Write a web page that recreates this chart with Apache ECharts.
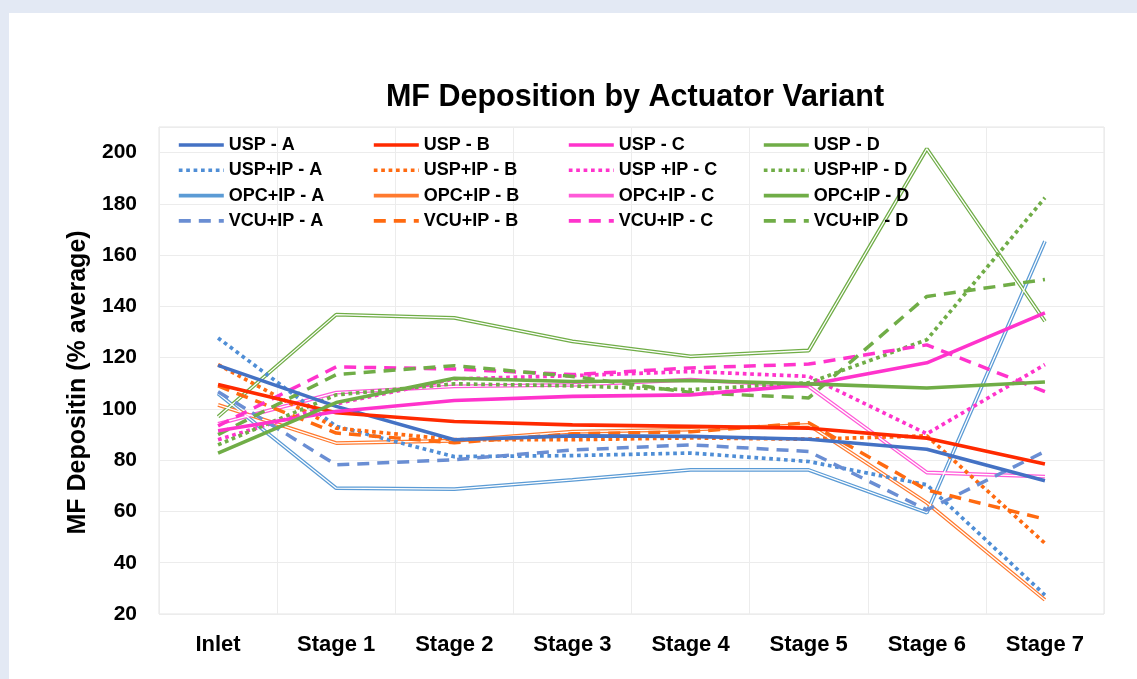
<!DOCTYPE html>
<html>
<head>
<meta charset="utf-8">
<script src="https://cdn.jsdelivr.net/npm/echarts@6/dist/echarts.min.js"></script>
<style>
  html, body { margin: 0; padding: 0; background: #e3e9f4; }
  #chart { position: absolute; left: 9px; top: 13px; width: 1128px; height: 666px; background: #ffffff; }
</style>
</head>
<body>
<div id="chart"></div>
<script>
// categories along x
var stages = ['Inlet', 'Stage 1', 'Stage 2', 'Stage 3', 'Stage 4', 'Stage 5', 'Stage 6', 'Stage 7'];

// USP (solid)
var uspA = [117, 101, 88, 89.5, 89.3, 88.2, 84.3, 72];
var uspB = [109.5, 98.5, 95.1, 93.8, 93.2, 92.5, 88.6, 78.5];
var uspC = [91.5, 99, 103.3, 104.9, 105.5, 109.4, 118, 137.5];
var uspD = [82.8, 102.5, 112, 110.7, 111.1, 109.8, 108.2, 110.5];

// USP+IP (dotted)
var uspIpA = [127.7, 93.2, 81.4, 81.8, 82.8, 79.5, 70.4, 27.4];
var uspIpB = [117.3, 92.5, 88, 88, 88.7, 88.2, 89.5, 47.6];
var uspIpC = [88, 102, 111.7, 113, 114.6, 112.7, 90.3, 117.3];
var uspIpD = [86, 105.5, 109.8, 109, 107.5, 110.2, 127, 182.4];

// OPC+IP (double line)
var opcIpA = [106, 69.1, 68.7, 72.3, 76.2, 76.2, 59.5, 165.4];
var opcIpB = [101.6, 86.7, 87.6, 91.1, 91.9, 93.8, 63.4, 25.5];
var opcIpC = [94.2, 106.4, 108.8, 109.4, 111.4, 108.8, 75.2, 73.6];
var opcIpD = [97, 136.8, 135.5, 126.4, 120.5, 122.8, 201.5, 134.2];

// VCU+IP (dashed)
var vcuIpA = [106.7, 78.2, 80.2, 84, 86, 83.4, 60.6, 83.4];
var vcuIpB = [109, 90.6, 86.8, 90.3, 91.1, 94.6, 68.4, 57];
var vcuIpC = [93.4, 116.4, 115.6, 113.4, 116, 117.5, 125, 106.8];
var vcuIpD = [90, 113.4, 116.9, 112.7, 106.4, 104.3, 143.9, 150.5];

var yTicks = [20, 40, 60, 80, 100, 120, 140, 160, 180, 200];

var FONT = '"Liberation Sans", Arial, sans-serif';

function solid(name, data, color) {
  return { name: name, type: 'line', data: data, symbol: 'none', z: 5,
    lineStyle: { color: color, width: 3.6, type: 'solid' }, itemStyle: { color: color } };
}
function dotted(name, data, color) {
  return { name: name, type: 'line', data: data, symbol: 'none', z: 4,
    lineStyle: { color: color, width: 3.7, type: [3.7, 3.7] }, itemStyle: { color: color } };
}
function dashed(name, data, color) {
  return { name: name, type: 'line', data: data, symbol: 'none', z: 4,
    lineStyle: { color: color, width: 3.5, type: [12, 8] }, itemStyle: { color: color } };
}
function double(name, data, color) {
  return [
    { name: name, type: 'line', data: data, symbol: 'none', z: 2,
      lineStyle: { color: color, width: 3.8 }, itemStyle: { color: color } },
    { name: name + ' (inner)', type: 'line', data: data, symbol: 'none', z: 3,
      lineStyle: { color: '#ffffff', width: 1.3 }, itemStyle: { color: '#ffffff' } }
  ];
}

var series = [].concat(
  double('OPC+IP - A', opcIpA, '#5B9BD5'),
  double('OPC+IP - B', opcIpB, '#FF7A2F'),
  double('OPC+IP - C', opcIpC, '#FF5AD8'),
  double('OPC+IP - D', opcIpD, '#70AD47'),
  [
    dotted('USP+IP - A', uspIpA, '#4F8ED6'),
    dotted('USP+IP - B', uspIpB, '#FF6A10'),
    dotted('USP +IP - C', uspIpC, '#FF33CC'),
    dotted('USP+IP - D', uspIpD, '#70AD47'),
    dashed('VCU+IP - A', vcuIpA, '#6A8ED3'),
    dashed('VCU+IP - B', vcuIpB, '#FF6A10'),
    dashed('VCU+IP - C', vcuIpC, '#FF33CC'),
    dashed('VCU+IP - D', vcuIpD, '#70AD47'),
    solid('USP - A', uspA, '#4472C4'),
    solid('USP - B', uspB, '#FF2A00'),
    solid('USP - C', uspC, '#FF33CC'),
    solid('USP - D', uspD, '#70AD47')
  ]
);

var legendCols = [
  ['USP - A', 'USP+IP - A', 'OPC+IP - A', 'VCU+IP - A'],
  ['USP - B', 'USP+IP - B', 'OPC+IP - B', 'VCU+IP - B'],
  ['USP - C', 'USP +IP - C', 'OPC+IP - C', 'VCU+IP - C'],
  ['USP - D', 'USP+IP - D', 'OPC+IP - D', 'VCU+IP - D']
];
var legendLeft = [168, 363, 558, 753];

var legends = legendCols.map(function (col, i) {
  return {
    data: col, orient: 'vertical', left: legendLeft[i], top: 123, padding: 0,
    itemWidth: 45, itemHeight: 14, itemGap: 7.3, selectedMode: false,
    itemStyle: { opacity: 0 },
    lineStyle: { width: 3.6 },
    textStyle: { fontFamily: FONT, fontWeight: 'bold', fontSize: 18, color: '#000' }
  };
});

var option = {
  animation: false,
  backgroundColor: '#ffffff',
  title: {
    text: 'MF Deposition by Actuator Variant',
    left: 621, top: 64, textAlign: 'center',
    textStyle: { fontFamily: FONT, fontWeight: 'bold', fontSize: 30.5, color: '#000' }
  },
  legend: legends,
  grid: { left: 150, right: 33, top: 114, bottom: 65, show: true, borderColor: '#e4e4e4', borderWidth: 1 },
  xAxis: {
    type: 'category', data: stages, boundaryGap: true,
    axisLine: { show: false }, axisTick: { show: false },
    splitLine: { show: true, lineStyle: { color: '#ececec', width: 1 } },
    axisLabel: { margin: 20, fontFamily: FONT, fontWeight: 'bold', fontSize: 22, color: '#000', interval: 0 }
  },
  yAxis: {
    type: 'value', min: yTicks[0], max: 210, interval: 20,
    name: 'MF Depositin (% average)', nameLocation: 'middle', nameGap: 64,
    nameTextStyle: { fontFamily: FONT, fontWeight: 'bold', fontSize: 25, color: '#000', padding: [0, 24, 0, 0] },
    axisLine: { show: false }, axisTick: { show: false },
    splitLine: { lineStyle: { color: '#ececec', width: 1 } },
    axisLabel: { showMaxLabel: false, margin: 22, fontFamily: FONT, fontWeight: 'bold', fontSize: 21, color: '#000' }
  },
  series: series
};

var chart = echarts.init(document.getElementById('chart'));
chart.setOption(option);
</script>
</body>
</html>
